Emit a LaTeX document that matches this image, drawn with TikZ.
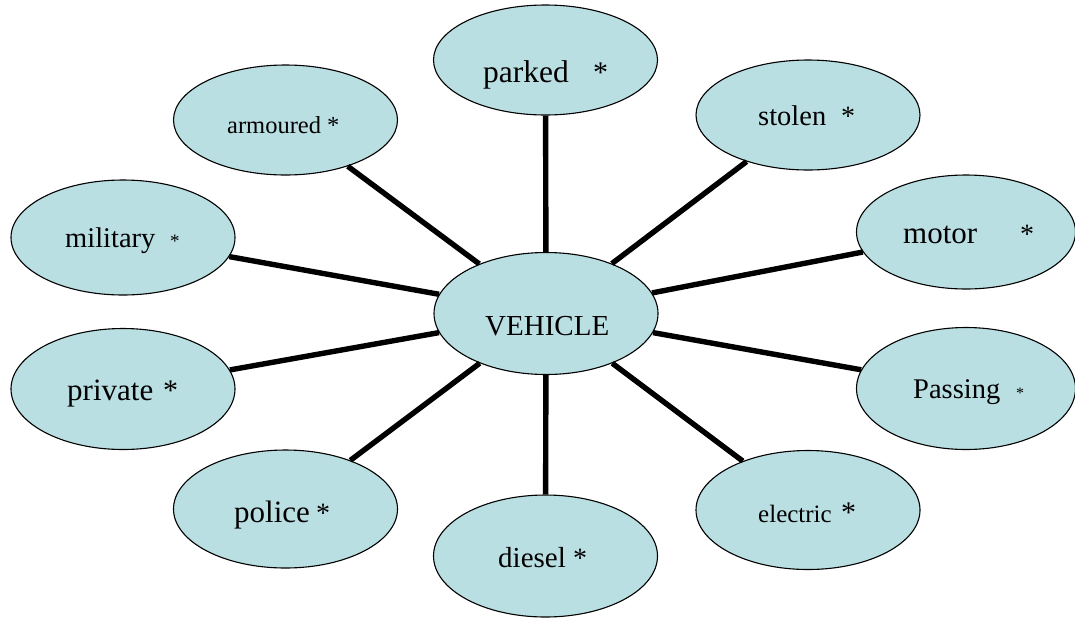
\documentclass[tikz,border=0pt]{standalone}
\usepackage{fontspec}
\setmainfont{Liberation Serif}
\usetikzlibrary{shapes.geometric}
\definecolor{bubble}{RGB}{186,223,227}
\newcommand{\fs}[1]{\fontsize{#1}{#1}\selectfont}
\tikzset{
  bub/.style={ellipse, draw=black, line width=1.1pt, fill=bubble, inner sep=0pt},
  spoke/.style={draw=black, line width=5.4pt},
  lbl/.style={anchor=base west, inner sep=0pt, text=black}
}
\begin{document}
\begin{tikzpicture}[x=1pt,y=-1pt]
\useasboundingbox (0,0) rectangle (1075,619);
% ellipses
\node[bub, minimum width=224pt, minimum height=122pt] (vehicle)  at (546,313.5) {};
\node[bub, minimum width=224pt, minimum height=110pt] (parked)   at (545.5,60) {};
\node[bub, minimum width=224pt, minimum height=110pt] (armoured) at (285.5,120) {};
\node[bub, minimum width=224pt, minimum height=110pt] (stolen)   at (808,115) {};
\node[bub, minimum width=224pt, minimum height=115pt] (military) at (123,237.5) {};
\node[bub, minimum width=219pt, minimum height=114pt] (motor)    at (966,232) {};
\node[bub, minimum width=224pt, minimum height=121pt] (private)  at (123,389) {};
\node[bub, minimum width=219pt, minimum height=122pt] (passing)  at (966,388.5) {};
\node[bub, minimum width=224pt, minimum height=118pt] (police)   at (285.5,509) {};
\node[bub, minimum width=224pt, minimum height=119pt] (electric) at (808,510) {};
\node[bub, minimum width=224pt, minimum height=122pt] (diesel)   at (545.5,556) {};
% spokes
\foreach \n in {parked,armoured,stolen,military,motor,private,passing,police,electric,diesel}
  \draw[spoke] (vehicle) -- (\n);
% labels
\node[lbl, font=\fs{29}] (tvehicle) at (485,335) {VEHICLE};
\node[lbl, font=\fs{31.5}] (tparked) at (483,82) {parked};
\node[lbl, font=\fs{30}] (sparked) at (593,82) {*};
\node[lbl, font=\fs{24.5}] (tarmoured) at (227,133) {armoured *};
\node[lbl, font=\fs{28.5}] (tstolen) at (758,125) {stolen};
\node[lbl, font=\fs{28}] (sstolen) at (841,125) {*};
\node[lbl, font=\fs{28.5}] (tmilitary) at (65,247) {military};
\node[lbl, font=\fs{19}] (smilitary) at (170,247) {*};
\node[lbl, font=\fs{31}] (tmotor) at (903,243) {motor};
\node[lbl, font=\fs{28}] (smotor) at (1020,243) {*};
\node[lbl, font=\fs{31}] (tprivate) at (67,400) {private};
\node[lbl, font=\fs{30}] (sprivate) at (163,400) {*};
\node[lbl, font=\fs{28.5}] (tpassing) at (913,398) {Passing};
\node[lbl, font=\fs{16}] (spassing) at (1016,398) {*};
\node[lbl, font=\fs{31}] (tpolice) at (234,522) {police};
\node[lbl, font=\fs{28}] (spolice) at (316,522) {*};
\node[lbl, font=\fs{25}] (telectric) at (758,522) {electric};
\node[lbl, font=\fs{30}] (selectric) at (841,522) {*};
\node[lbl, font=\fs{29}] (tdiesel) at (498,567) {diesel};
\node[lbl, font=\fs{28}] (sdiesel) at (573,567) {*};
\end{tikzpicture}
\end{document}
